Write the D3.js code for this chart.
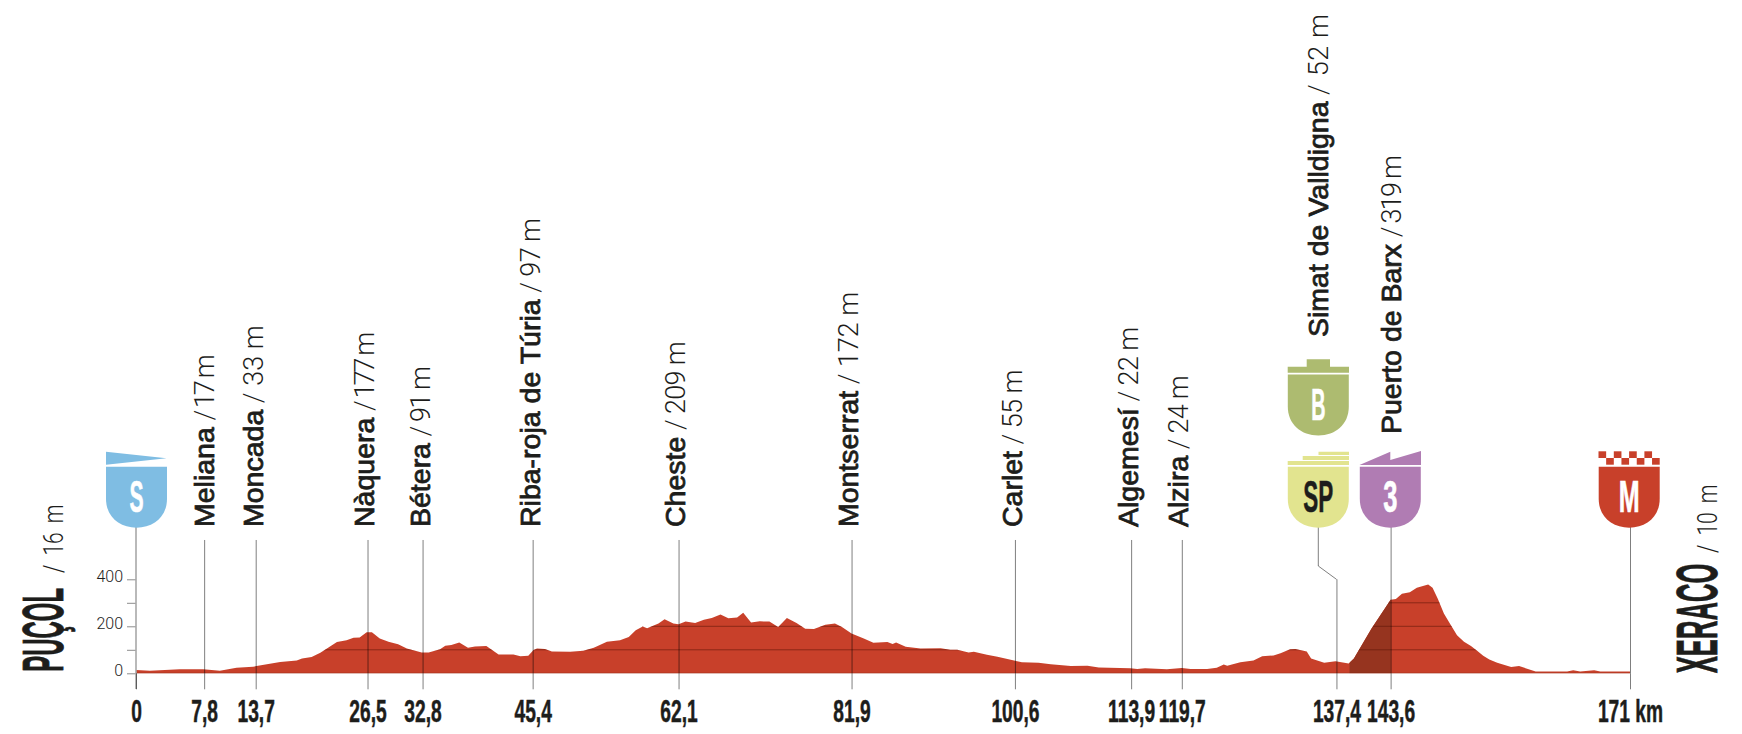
<!DOCTYPE html>
<html>
<head>
<meta charset="utf-8">
<title>Etapa Puçol - Xeraco</title>
<script src="https://cdn.jsdelivr.net/npm/d3@7"></script>
<style>
  html, body { margin: 0; padding: 0; background: #fff; }
  svg { display: block; }
</style>
</head>
<body>
<div class="profile-chart"></div>
<script>
// stops along the stage
const stopNames = ["Meliana", "Moncada", "Nàquera", "Bétera", "Riba-roja de Túria", "Cheste", "Montserrat", "Carlet", "Algemesí", "Alzira", "Simat de Valldigna", "Puerto de Barx"];
const stopKm = [7.8, 13.7, 26.5, 32.8, 45.4, 62.1, 81.9, 100.6, 113.9, 119.7, 137.4, 143.6];
const stopAlt = [17, 33, 177, 91, 97, 209, 172, 55, 22, 24, 52, 319];
const kmTicks = [0, 7.8, 13.7, 26.5, 32.8, 45.4, 62.1, 81.9, 100.6, 113.9, 119.7, 137.4, 143.6, 171];
const altTicks = [0, 100, 200, 300, 400];
const altLabels = [0, 200, 400];
const gridAlts = [0, 100, 200, 300];

// elevation
const profileKm = [0, 1.6, 5, 7.7, 9.6, 11.5, 13.4, 13.8, 16.5, 18.4, 19, 20.1, 21.1, 23, 24.1, 24.9, 25.6, 26.4, 27, 27.9, 28.9, 30, 31, 32.7, 33.5, 34.8, 35.4, 36.1, 37, 38, 38.8, 40.1, 41.5, 43.2, 44, 44.9, 45.5,
  45.9, 46.8, 47.6, 49.7, 51.2, 52.4, 53.9, 55.4, 56.4, 57.2, 58, 58.5, 59.8, 60.5, 61.5, 62.1, 62.9, 64, 65, 65.9, 66.9, 67.8, 68.8, 69.5, 70.4, 71.4, 72.5, 73.5, 74.5, 75.6, 76.6, 77.6, 78.9, 80, 80.8, 81.9, 83.3, 84.4, 86, 86.6, 87, 88.1, 89.8, 92.1,
  93.2, 94, 95.3, 95.9, 97.4, 98.6, 100.5, 101.4, 103.3, 104.7, 107, 108.9, 110.2, 113.8, 114.6, 115.5, 118, 119.7, 120.7, 122.6, 123.7, 124.5, 124.9, 126.4, 127.9, 128.9, 130.2, 131, 132.1, 132.7,
  134, 134.5, 135.2, 136, 137.3, 138.8, 139.4, 141.4, 143.6, 144.2, 144.9, 145.8, 146.6, 147.9, 148.4, 149, 149.7, 150.4, 151.2, 152, 152.8, 153.5, 154.2, 154.9, 155.8, 157.4, 158.3, 160.2, 163.8, 164.5, 165.3, 166.9, 167.6, 171];
const profileAlt = [14, 11, 17, 17, 11, 24, 28, 31, 48, 54, 63, 69, 87, 133, 141, 151, 152, 175, 175, 148, 134, 124, 106, 89, 89, 102, 117, 120, 131, 109, 114, 116, 80, 80, 73, 75, 99,
  106, 103, 93, 92, 96, 109, 134, 141, 155, 183, 199, 192, 212, 230, 212, 209, 220, 214, 228, 235, 250, 234, 237, 258, 216, 221, 220, 197, 235, 214, 190, 188, 207, 212, 197, 169, 148, 130, 133, 125, 131, 113, 106, 107,
  100, 100, 89, 92, 79, 70, 54, 47, 45, 38, 31, 32, 25, 21, 18, 21, 17, 23, 18, 18, 24, 37, 32, 47, 55, 73, 76, 85, 102, 103,
  93, 63, 54, 45, 51, 42, 63, 190, 313, 316, 338, 345, 364, 378, 364, 317, 254, 211, 162, 134, 116, 96, 75, 59, 45, 27, 31, 8, 8, 13, 8, 13, 8, 8];
const climbKm = [138.9, 143.6];

const W = 1742, H = 734;
const red = "#c8402a", ink = "#1d1d1b";
const condensed = "'Liberation Sans', sans-serif";

const x = d3.scaleLinear().domain([0, 171]).range([136, 1630]);
const y = d3.scaleLinear().domain([0, 400]).range([673.3, 579.3]);

const svg = d3.select(".profile-chart").append("svg")
    .attr("width", W)
    .attr("height", H);

const points = profileKm.map((km, i) => ({km: km, alt: profileAlt[i]}));
const area = d3.area()
    .x(d => x(d.km))
    .y0(y(0))
    .y1(d => y(d.alt));

svg.append("clipPath").attr("id", "profile-clip")
  .append("path")
    .attr("d", area(points));

// profile, climb shading and the grid that only shows inside it
svg.append("path")
    .attr("d", area(points))
    .attr("fill", red);

svg.append("rect")
    .attr("clip-path", "url(#profile-clip)")
    .attr("x", x(climbKm[0]))
    .attr("width", x(climbKm[1]) - x(climbKm[0]))
    .attr("y", y(400))
    .attr("height", y(0) - y(400))
    .attr("fill", "#96341f");

svg.append("g")
    .attr("clip-path", "url(#profile-clip)")
  .selectAll("line")
  .data(gridAlts)
  .join("line")
    .attr("x1", x(0))
    .attr("x2", x(171))
    .attr("y1", d => y(d))
    .attr("y2", d => y(d))
    .attr("stroke", "#5a1208")
    .attr("stroke-opacity", 0.55);

// altitude axis
const yAxis = d3.axisLeft(y)
    .tickValues(altTicks)
    .tickSize(9)
    .tickPadding(4)
    .tickFormat(d => altLabels.includes(d) ? d : "");

svg.append("g")
    .attr("transform", `translate(${x(0)},0)`)
    .call(yAxis)
    .call(g => g.select(".domain").remove())
    .call(g => g.selectAll(".tick line").attr("stroke", "#8c8c8c"))
    .call(g => g.selectAll(".tick text")
        .attr("dy", "0.15em")
        .attr("fill", ink)
        .attr("font-family", "Roboto, 'Liberation Sans', sans-serif")
        .attr("font-weight", 300)
        .attr("font-size", 16));

svg.append("line")
    .attr("x1", x(0)).attr("x2", x(0))
    .attr("y1", 527).attr("y2", 689)
    .attr("stroke", "#a8a8a8")
    .attr("stroke-width", 1.6);

// km axis, ticks run up to the labels
const xAxis = d3.axisBottom(x)
    .tickValues(kmTicks)
    .tickSize(16)
    .tickPadding(10)
    .tickFormat(d => d === 171 ? "171 km" : String(d).replace(".", ","));

const kmAxis = svg.append("g")
    .attr("transform", `translate(0,${y(0)})`)
    .call(xAxis)
    .call(g => g.select(".domain").remove());

kmAxis.selectAll(".tick text")
    .attr("y", 48.4)
    .attr("dy", 0)
    .attr("fill", ink)
    .attr("stroke", ink)
    .attr("stroke-width", 0.5)
    .attr("font-family", condensed)
    .attr("font-weight", 700)
    .attr("font-size", 31)
    .attr("transform", "scale(0.62,1)");

kmAxis.selectAll(".tick line")
    .attr("stroke", "#000")
    .attr("stroke-opacity", 0.5);

kmAxis.selectAll(".tick").filter(d => d !== 0)
  .append("line")
    .attr("y1", 0)
    .attr("y2", d => {
        if (d === 137.4) return 579.3 - y(0);
        return (d === 143.6 || d === 171 ? 527 : 540) - y(0);
    })
    .attr("stroke", "#000")
    .attr("stroke-opacity", 0.5);

// elbow from the SP shield to km 137,4
const spX = 1318.3;
svg.append("path")
    .attr("d", d3.line()([[spX, 527], [spX, 566], [x(137.4), 579.3]]))
    .attr("fill", "none")
    .attr("stroke", "#000")
    .attr("stroke-opacity", 0.5);

// place names, set just right of their line
const labelBottom = [527, 527, 527, 527, 527, 527, 527, 527, 527, 527, 337, 434];
const labelOffset = [9.7, 7, 6, 7, 7.7, 6, 6, 7.4, 7, 6, 10, 10.4];
// the altitudes run tighter than Roboto, per label
const tailKern = [-11.5, 0, -13.5, -7.5, -3, -4, -0.5, -3, -3, -4, 3, -10.5];

function tailSpacing(s, kern) {
    const n = s.length - 2;
    return s.split("").map((c, i) => i < 2 ? 0 : (kern / n).toFixed(2)).join(" ");
}

const labels = svg.append("g").selectAll("text")
  .data(stopNames)
  .join("text")
    .attr("transform", (d, i) => {
        const lx = i === 10 ? spX + labelOffset[i] : x(stopKm[i]) + labelOffset[i];
        return `translate(${lx},${labelBottom[i]}) rotate(-90)`;
    })
    .attr("font-family", "'Liberation Sans', sans-serif")
    .attr("font-size", 28.5)
    .attr("fill", ink);

labels.append("tspan")
    .attr("stroke", ink)
    .attr("stroke-width", 0.8)
    .text(d => d);

labels.append("tspan")
    .attr("font-family", "Roboto, 'Liberation Sans', sans-serif")
    .attr("font-weight", 300)
    .attr("font-size", 27)
    .attr("dx", (d, i) => tailSpacing(` / ${stopAlt[i]} m`, tailKern[i]))
    .text((d, i) => ` / ${stopAlt[i]} m`);

// start and finish names
const endNames = ["PUÇOL", "XERACO"];
const endAlts = [16, 10];
const endX = [62.7, 1716.7];
const endY = [671.7, 673.3];
const endScale = [0.42, 0.45];
const endSlashY = [573, 553];

svg.append("g").selectAll("text")
  .data(endNames)
  .join("text")
    .attr("transform", (d, i) => `translate(${endX[i]},${endY[i]}) rotate(-90) scale(${endScale[i]},1)`)
    .attr("font-family", condensed)
    .attr("font-weight", 700)
    .attr("font-size", 57)
    .attr("fill", ink)
    .attr("stroke", ink)
    .attr("stroke-width", 0.8)
    .text(d => d);

svg.append("g").selectAll("text")
  .data(endAlts)
  .join("text")
    .attr("transform", (d, i) => `translate(${endX[i]},${endSlashY[i]}) rotate(-90) scale(0.78,1)`)
    .attr("font-family", "Roboto, 'Liberation Sans', sans-serif")
    .attr("font-weight", 300)
    .attr("font-size", 27)
    .attr("word-spacing", 5)
    .attr("fill", ink)
    .text(d => `/ ${d} m`);

// shields
function shield(g, cx, top, color) {
    const l = cx - 30.5, r = cx + 30.5, b = top + 61;
    g.append("path")
        .attr("d", `M${l},${top}H${r}V${top + 32}C${r},${top + 50} ${cx + 17},${b} ${cx},${b}C${cx - 17},${b} ${l},${top + 50} ${l},${top + 32}Z`)
        .attr("fill", color);
}

function letter(g, cx, top, txt, color, sx) {
    g.append("text")
        .attr("transform", `translate(${cx},${top + 45}) scale(${sx},1)`)
        .attr("text-anchor", "middle")
        .attr("font-family", condensed)
        .attr("font-weight", 700)
        .attr("font-size", 44)
        .attr("fill", color)
        .attr("stroke", color)
        .attr("stroke-width", 0.6)
        .text(txt);
}

const markers = svg.append("g");

// start
const blue = "#7fbde3";
markers.append("path")
    .attr("d", "M106,451.7L166.5,458.2L106,464.7Z")
    .attr("fill", blue);
shield(markers, 136.5, 466.7, blue);
letter(markers, 136.5, 466.7, "S", "#fff", 0.48);

// bonus
const green = "#adbb70";
markers.append("path")
    .attr("d", "M1287.7,366.7H1306.7V359.3H1330V366.7H1349V372.7H1287.7Z")
    .attr("fill", green);
shield(markers, spX, 374.5, green);
letter(markers, spX, 374.5, "B", "#fff", 0.45);

// sprint
const yellow = "#e2e48f";
markers.append("path")
    .attr("d", "M1287.7,461H1349V465H1287.7Z M1302.7,456H1349V460H1302.7Z M1318.5,451.7H1349V455H1318.5Z")
    .attr("fill", yellow);
shield(markers, spX, 466.7, yellow);
letter(markers, spX, 466.7, "SP", ink, 0.51);

// climb
const purple = "#b07cb3";
markers.append("path")
    .attr("d", "M1359.5,465L1390.3,451.7V460L1421,451V465Z")
    .attr("fill", purple);
shield(markers, 1390.3, 466.7, purple);
letter(markers, 1390.3, 466.7, "3", "#fff", 0.58);

// finish
const checks = d3.range(8);
markers.append("g").selectAll("rect")
  .data(checks)
  .join("rect")
    .attr("x", d => 1598.5 + d * 7.65)
    .attr("y", d => d % 2 ? 458 : 451.3)
    .attr("width", 7.65)
    .attr("height", 6.7)
    .attr("fill", red);
shield(markers, 1629.2, 466.7, red);
letter(markers, 1629.2, 466.7, "M", "#fff", 0.57);
</script>
</body>
</html>
